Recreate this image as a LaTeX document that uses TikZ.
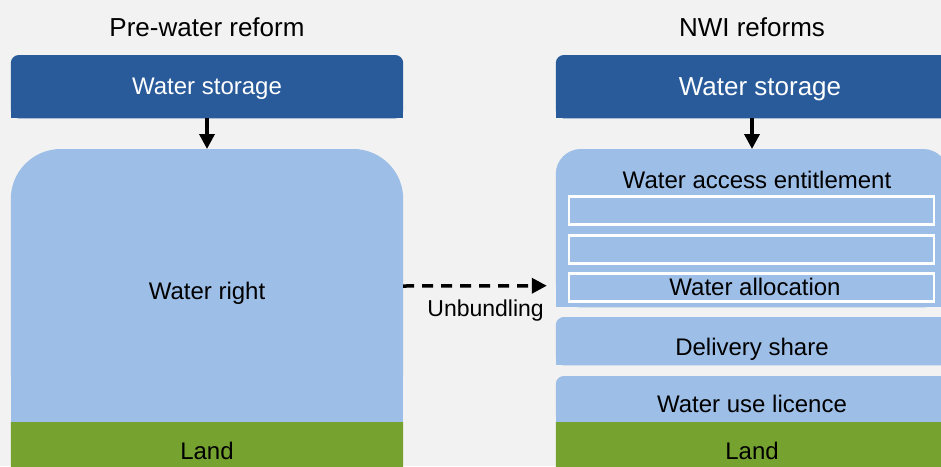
\documentclass[tikz,border=0pt]{standalone}
\usepackage{fontspec}
\setmainfont{Liberation Sans}
\usepackage{tikz}
\usepackage{color}
\usetikzlibrary{arrows,arrows.meta,backgrounds}

\definecolor{darkblue}{HTML}{295B9B}
\definecolor{lightblue}{HTML}{9DBEE6}
\definecolor{landgreen}{HTML}{76A230}
\definecolor{backgrey}{HTML}{F2F2F2}

\begin{document}
\begin{tikzpicture}[x=1pt,y=-1pt,>={Triangle[length=15pt,width=15pt]}]
      \tikzstyle{every node} = [inner sep = 0pt, font=\fontsize{24}{28}\selectfont];
      \tikzstyle{layer} = [minimum width=392pt, anchor=north, text depth=0pt];
      \tikzstyle{lowtext} = [text height=28pt];
      \useasboundingbox (0,0) rectangle (941,466);
      \clip (0,0) rectangle (941,466);
      % titles
      \node(titleL) at (207,27) {\fontsize{26}{30}\selectfont Pre-water reform};
      \node(titleR) at (752,27) {\fontsize{26}{30}\selectfont NWI reforms};
      % pre-water reform
      \node(storeL) [layer, minimum height=63pt, text=white] at (207,55) {Water storage};
      \node(rightL) [layer, lowtext, minimum height=273pt] at (207,149) {Water right};
      \node(landL) [layer, minimum height=58pt] at (207,422) {Land};
      % NWI reforms
      \node(storeR) [layer, minimum height=63pt, text=white] at (752,55) {\fontsize{26}{30}\selectfont\hspace*{16pt}Water storage};
      \node(entR) [layer, minimum height=158pt] at (752,149) {};
      \node(entlabel) [text depth=0pt] at (757,180) {Water access entitlement};
      \foreach \i/\y in {1/195,2/234,3/272}{
        \node(sub\i) [layer, minimum width=365pt, minimum height=28pt, draw=white, line width=2.5pt] at (751.5,\y) {};
      }
      \node(alloc) [text depth=0pt] at (755,287) {Water allocation};
      \node(shareR) [layer, lowtext, minimum height=48pt] at (752,317) {Delivery share};
      \node(licR) [layer, text height=26pt, minimum height=46pt] at (752,376) {Water use licence};
      \node(landR) [layer, minimum height=58pt] at (752,422) {Land};
      % boxes with round tops
      \begin{pgfonlayer}{background}
        \fill[backgrey] (0,0) rectangle (941,466);
        \foreach \n/\c/\r in {storeL/darkblue/8,rightL/lightblue/50,landL/landgreen/0.1,
                              storeR/darkblue/8,entR/lightblue/25,shareR/lightblue/8,
                              licR/lightblue/8,landR/landgreen/0.1}{
          \fill[\c, rounded corners=\r pt] (\n.north west) rectangle (\n.south east);
          \fill[\c] (\n.west) rectangle (\n.south east);
        }
      \end{pgfonlayer}
      % arrows
      \draw[->, line width=3.5pt] (storeL) -- (rightL);
      \draw[->, line width=3.5pt] (storeR.south -| entR) -- (entR);
      \draw[->, line width=3.5pt, dash pattern=on 11pt off 8pt, shorten >=9pt]
        (rightL.east |- 0,286) -- (rightL.east -| entR.west)
        node(unbund)[pos=0.54, below=12pt] {\fontsize{23}{27}\selectfont Unbundling};
\end{tikzpicture}
\end{document}
